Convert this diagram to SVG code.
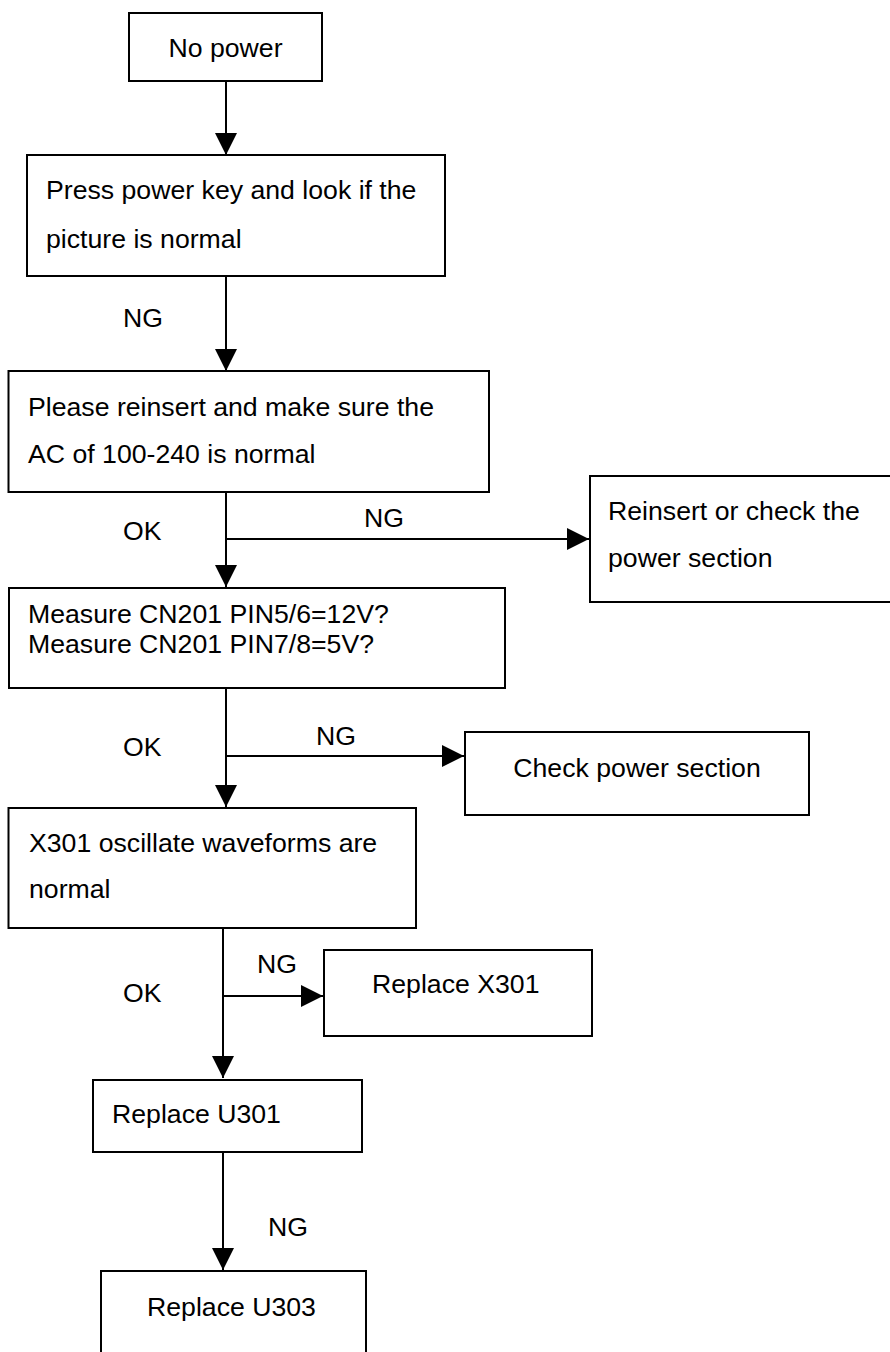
<svg xmlns="http://www.w3.org/2000/svg" width="890" height="1352" viewBox="0 0 890 1352">
  <style>
    .box { fill: #ffffff; stroke: #000000; stroke-width: 2; }
    .wire { fill: none; stroke: #000000; stroke-width: 2; }
    .lbl { font-family: "Liberation Sans", Arial, sans-serif; font-size: 26.67px; fill: #000000; }
    .mid { text-anchor: middle; }
  </style>
  <defs>
    <marker id="arrow" markerUnits="userSpaceOnUse" markerWidth="22" markerHeight="22" viewBox="0 0 20 20" refX="20" refY="10" orient="auto">
      <path d="M0,0 L20,10 L0,20 Z" fill="#000000"/>
    </marker>
  </defs>
  <rect width="890" height="1352" fill="#ffffff"/>

  <!-- connectors -->
  <g id="connectors">
    <line class="wire" x1="226" y1="81" x2="226" y2="155" marker-end="url(#arrow)"/>
    <line class="wire" x1="226" y1="276" x2="226" y2="371" marker-end="url(#arrow)"/>
    <line class="wire" x1="226" y1="492" x2="226" y2="587" marker-end="url(#arrow)"/>
    <line class="wire" x1="226" y1="539" x2="589" y2="539" marker-end="url(#arrow)"/>
    <line class="wire" x1="226" y1="688" x2="226" y2="807" marker-end="url(#arrow)"/>
    <line class="wire" x1="226" y1="756" x2="464" y2="756" marker-end="url(#arrow)"/>
    <line class="wire" x1="223" y1="928" x2="223" y2="1078" marker-end="url(#arrow)"/>
    <line class="wire" x1="223" y1="996" x2="323" y2="996" marker-end="url(#arrow)"/>
    <line class="wire" x1="223" y1="1152" x2="223" y2="1270" marker-end="url(#arrow)"/>

    <text class="lbl" x="123" y="327">NG</text>
    <text class="lbl" x="123" y="540">OK</text>
    <text class="lbl" x="364" y="527">NG</text>
    <text class="lbl" x="123" y="756">OK</text>
    <text class="lbl" x="316" y="745">NG</text>
    <text class="lbl" x="257" y="973">NG</text>
    <text class="lbl" x="123" y="1002">OK</text>
    <text class="lbl" x="268" y="1236">NG</text>
  </g>

  <g id="no-power">
    <rect class="box" x="129" y="13" width="193" height="68"/>
    <text class="lbl mid" x="225.5" y="57">No power</text>
  </g>

  <g id="press-power-key">
    <rect class="box" x="27" y="155" width="418" height="121"/>
    <text class="lbl" x="46" y="199">Press power key and look if the</text>
    <text class="lbl" x="46" y="248">picture is normal</text>
  </g>

  <g id="reinsert-ac">
    <rect class="box" x="8.5" y="371" width="480.5" height="121"/>
    <text class="lbl" x="28" y="416">Please reinsert and make sure the</text>
    <text class="lbl" x="28" y="463">AC of 100-240 is normal</text>
  </g>

  <g id="check-power-section-1">
    <rect class="box" x="590" y="476" width="320" height="126"/>
    <text class="lbl" x="608" y="520">Reinsert or check the</text>
    <text class="lbl" x="608" y="567">power section</text>
  </g>

  <g id="measure-cn201">
    <rect class="box" x="9" y="588" width="496" height="100"/>
    <text class="lbl" x="28" y="623">Measure CN201 PIN5/6=12V?</text>
    <text class="lbl" x="28" y="653">Measure CN201 PIN7/8=5V?</text>
  </g>

  <g id="check-power-section-2">
    <rect class="box" x="465" y="732" width="344" height="83"/>
    <text class="lbl mid" x="637" y="777">Check power section</text>
  </g>

  <g id="x301-waveforms">
    <rect class="box" x="8.5" y="808" width="407.5" height="120"/>
    <text class="lbl" x="29" y="852">X301 oscillate waveforms are</text>
    <text class="lbl" x="29" y="898">normal</text>
  </g>

  <g id="replace-x301">
    <rect class="box" x="324" y="950" width="268" height="86"/>
    <text class="lbl" x="372" y="993">Replace X301</text>
  </g>

  <g id="replace-u301">
    <rect class="box" x="93" y="1080" width="269" height="72"/>
    <text class="lbl" x="112" y="1123">Replace U301</text>
  </g>

  <g id="replace-u303">
    <rect class="box" x="101" y="1271" width="265" height="100"/>
    <text class="lbl" x="147" y="1316">Replace U303</text>
  </g>
</svg>
